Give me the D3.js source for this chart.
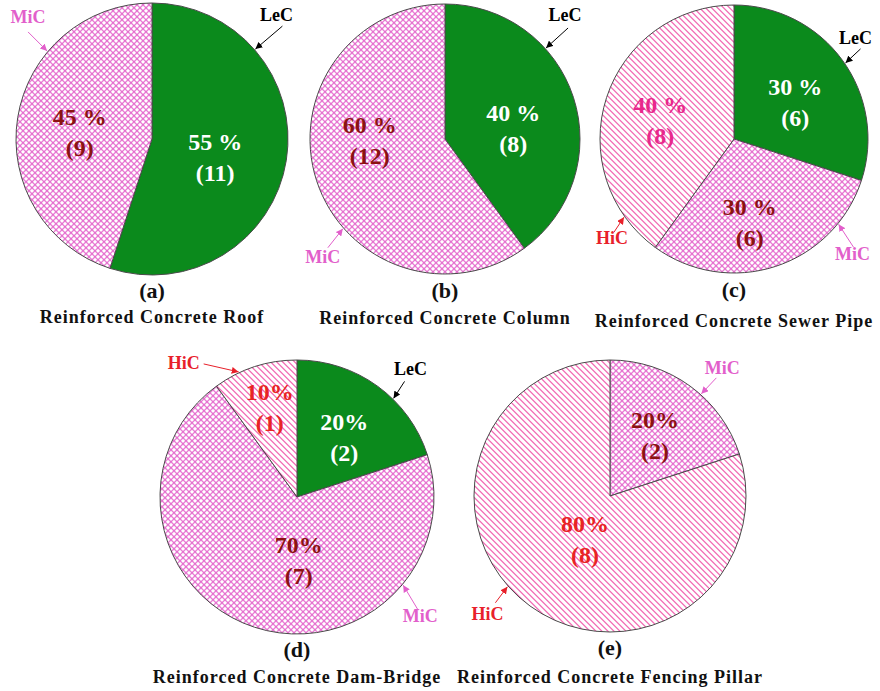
<!DOCTYPE html>
<html>
<head>
<meta charset="utf-8">
<script src="https://cdn.jsdelivr.net/npm/d3@7"></script>
<style>
  body { margin: 0; background: #fff; }
  svg text { font-family: "Liberation Serif", "Times New Roman", serif; font-weight: bold; }
</style>
</head>
<body>
<div id="chart"></div>
<script>
// data
var panels = ["(a)", "(b)", "(c)", "(d)", "(e)"];
var titles = ["Reinforced Concrete Roof", "Reinforced Concrete Column", "Reinforced Concrete Sewer Pipe",
              "Reinforced Concrete Dam-Bridge", "Reinforced Concrete Fencing Pillar"];
var categories = ["LeC", "MiC", "HiC"];
var lecCounts = [11, 8, 6, 2, 0];
var micCounts = [9, 12, 6, 7, 2];
var hicCounts = [0, 0, 8, 1, 8];
var pctSep = [" ", " ", " ", "", ""];

// layout
var width = 880, height = 691;
var centers = [[152, 139], [445, 139], [734, 139], [297, 497], [610, 496]];
var radii = [136, 135, 134, 137, 136];
var captionY = [[298, 323], [298, 324], [297, 327], [657, 683], [655, 683]];

// label nudges from the arc centroid, per pie, per category
var nudges = [
  {LeC: [-4, 0], MiC: [-5, -3]},
  {LeC: [4, 3], MiC: [-11, -27]},
  {LeC: [7, -5], MiC: [-5, 12], HiC: [-10, -5]},
  {LeC: [7, -12], MiC: [23, -9], HiC: [-6, -32]},
  {MiC: [5, -13], HiC: [15, -19]}
];
// callouts: tip angle on circle (deg), tail offset from tip, text offset from tail
var callouts = [
  [{k: "MiC", a: 310, t: [-19, -19], x: [0, -9]}, {k: "LeC", a: 49, t: [27, -23], x: [-6, -5]}],
  [{k: "LeC", a: 48, t: [22, -20], x: [-3, -7]}, {k: "MiC", a: 228.7, t: [-15, 19], x: [-5, 15]}],
  [{k: "LeC", a: 55.7, t: [15, -14], x: [-5, -5]}, {k: "HiC", a: 234.6, t: [-10, 15], x: [-2, 12]},
   {k: "MiC", a: 129.2, t: [15, 23], x: [-1, 13]}],
  [{k: "HiC", a: 335, t: [-35, -8], x: [-20, 5]}, {k: "LeC", a: 44.4, t: [11, -17], x: [6, -6]},
   {k: "MiC", a: 129.7, t: [15, 25], x: [2, 12]}],
  [{k: "MiC", a: 41.8, t: [15, -16], x: [6, -4]}, {k: "HiC", a: 228.5, t: [-12, 16], x: [-8, 17]}]
];

var fillFor = {LeC: "#0b8a1c", MiC: "url(#cross)", HiC: "url(#hatch)"};
var calloutColor = {LeC: "#000", MiC: "#e25fcb", HiC: "#e8202a"};
var labelColor = {LeC: "#fff", MiC: "#8b1212", HiC: "#e82424"};
var hicLabelOverride = ["#e8288c", "#e8288c", "#e8288c", "#e82424", "#e82424"];

var svg = d3.select("#chart").append("svg")
    .attr("width", width)
    .attr("height", height);

var defs = svg.append("defs");
var step = 6 / Math.SQRT2;

// cross-hatch: a square grid turned 45 degrees
var cross = defs.append("pattern").attr("id", "cross")
    .attr("patternUnits", "userSpaceOnUse")
    .attr("width", step).attr("height", step)
    .attr("patternTransform", "rotate(45)");
cross.append("rect").attr("width", step).attr("height", step).attr("fill", "#fff");
cross.append("rect").attr("width", 1.1).attr("height", step).attr("fill", "#e25cc9");
cross.append("rect").attr("width", step).attr("height", 1.1).attr("fill", "#e25cc9");

// single hatch running top-left to bottom-right
var hatch = defs.append("pattern").attr("id", "hatch")
    .attr("patternUnits", "userSpaceOnUse")
    .attr("width", step).attr("height", 10)
    .attr("patternTransform", "rotate(-45)");
hatch.append("rect").attr("width", step).attr("height", 10).attr("fill", "#fff");
hatch.append("rect").attr("width", 1).attr("height", 10).attr("fill", "#ee3f9e");

categories.forEach(function(c) {
  defs.append("marker").attr("id", "arr" + c)
      .attr("viewBox", "0 0 10 10").attr("refX", 10).attr("refY", 5)
      .attr("markerWidth", 7).attr("markerHeight", 7)
      .attr("markerUnits", "userSpaceOnUse")
      .attr("orient", "auto")
    .append("path").attr("d", "M0,0L10,5L0,10z").attr("fill", calloutColor[c]);
});

var pie = d3.pie().sort(null).value(function(d) { return d.v; });

panels.forEach(function(p, i) {
  var rows = [
    {k: "LeC", v: lecCounts[i]},
    {k: "MiC", v: micCounts[i]},
    {k: "HiC", v: hicCounts[i]}
  ].filter(function(d) { return d.v > 0; });
  var total = d3.sum(rows, function(d) { return d.v; });
  var r = radii[i];
  var arc = d3.arc().innerRadius(0).outerRadius(r);

  var g = svg.append("g")
      .attr("transform", "translate(" + centers[i][0] + "," + centers[i][1] + ")");

  var arcs = pie(rows);
  g.selectAll("path.slice")
    .data(arcs)
    .enter().append("path")
      .attr("class", "slice")
      .attr("d", arc)
      .attr("fill", function(d) { return fillFor[d.data.k]; })
      .attr("stroke", "#4a4a4a")
      .attr("stroke-width", 1);

  arcs.forEach(function(d) {
    var c = arc.centroid(d);
    var n = nudges[i][d.data.k] || [0, 0];
    var col = d.data.k == "HiC" ? hicLabelOverride[i] : labelColor[d.data.k];
    var t = g.append("text")
        .attr("text-anchor", "middle")
        .attr("fill", col)
        .style("font-size", "24px");
    t.append("tspan").attr("x", c[0] + n[0]).attr("y", c[1] + n[1])
        .text(Math.round(d.data.v / total * 100) + pctSep[i] + "%");
    t.append("tspan").attr("x", c[0] + n[0]).attr("y", c[1] + n[1] + 31)
        .text("(" + d.data.v + ")");
  });

  callouts[i].forEach(function(co) {
    var tip = d3.pointRadial(co.a * Math.PI / 180, r + 1);
    var tail = [tip[0] + co.t[0], tip[1] + co.t[1]];
    g.append("line")
        .attr("x1", tail[0]).attr("y1", tail[1])
        .attr("x2", tip[0]).attr("y2", tip[1])
        .attr("stroke", calloutColor[co.k])
        .attr("stroke-width", 1)
        .attr("marker-end", "url(#arr" + co.k + ")");
    g.append("text")
        .attr("x", tail[0] + co.x[0]).attr("y", tail[1] + co.x[1])
        .attr("text-anchor", "middle")
        .attr("fill", calloutColor[co.k])
        .style("font-size", "18px")
        .text(co.k);
  });

  svg.append("text")
      .attr("x", centers[i][0]).attr("y", captionY[i][0])
      .attr("text-anchor", "middle")
      .style("font-size", "22px")
      .attr("fill", "#111")
      .text(p);
  svg.append("text")
      .attr("x", centers[i][0]).attr("y", captionY[i][1])
      .attr("text-anchor", "middle")
      .style("font-size", "18px")
      .style("letter-spacing", "1px")
      .attr("fill", "#111")
      .text(titles[i]);
});
</script>
</body>
</html>
